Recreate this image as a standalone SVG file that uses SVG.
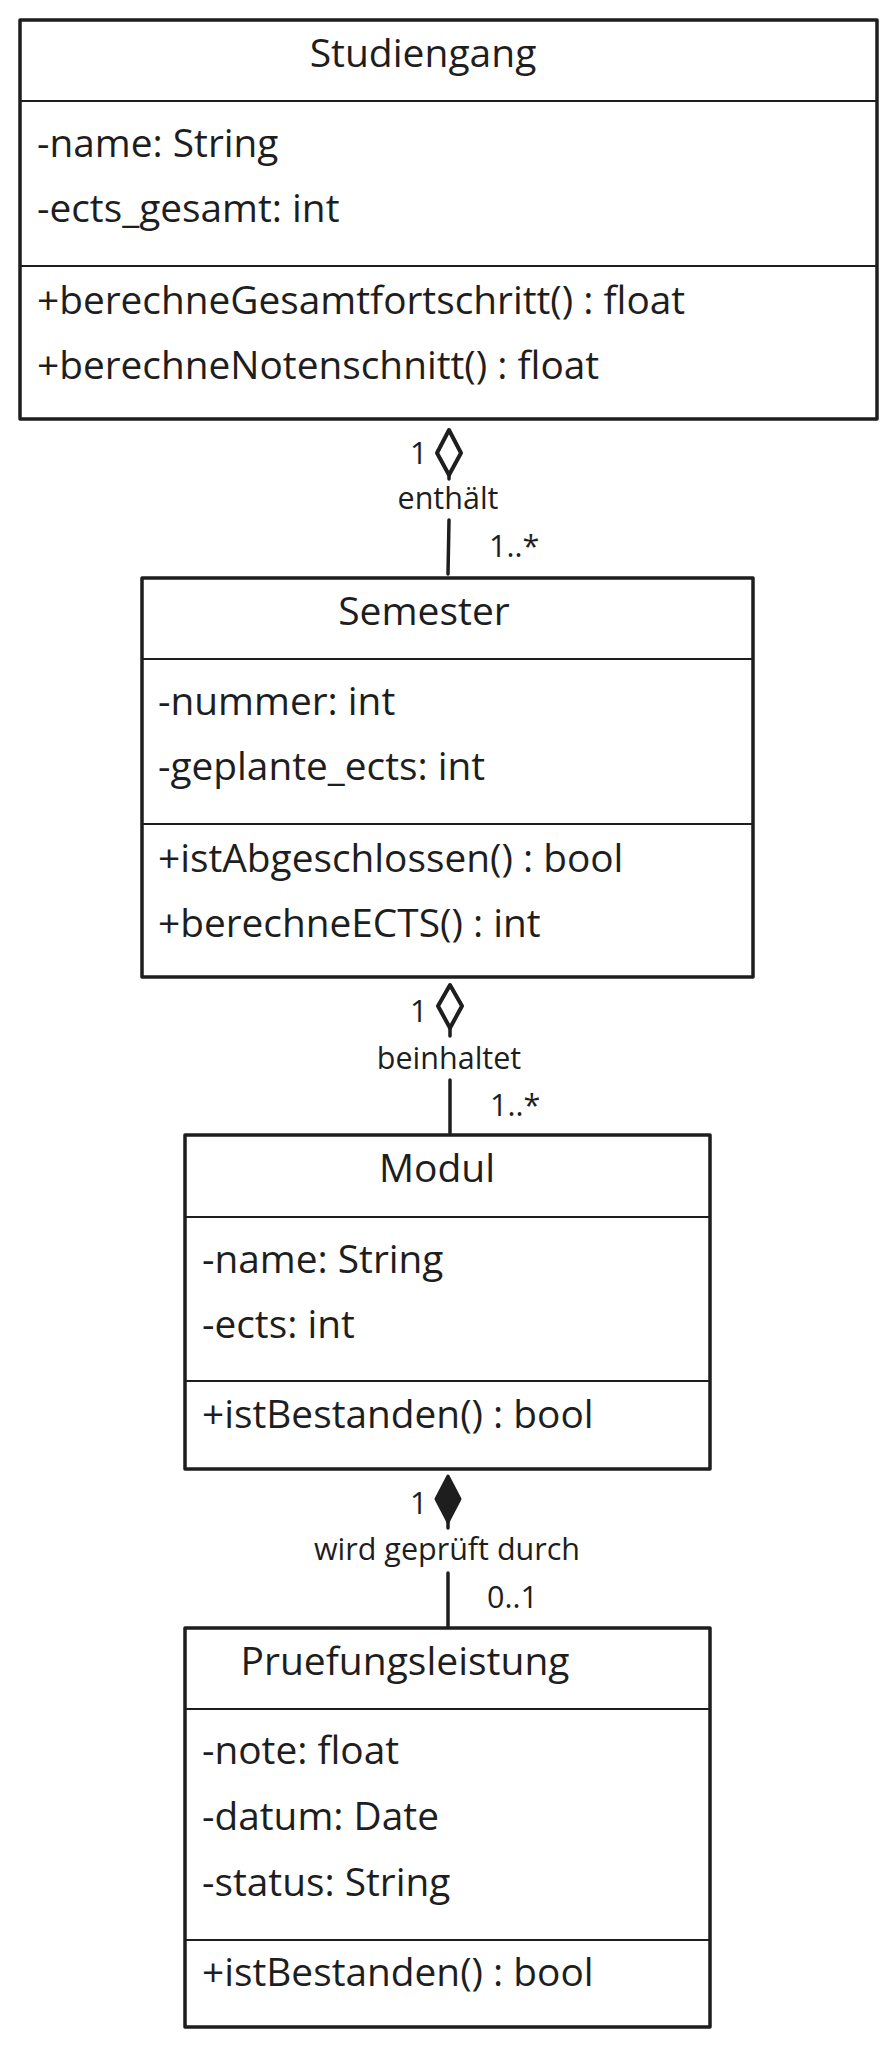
<svg xmlns="http://www.w3.org/2000/svg" width="895" height="2048" viewBox="0 0 895 2048">
<style>
.box{fill:#fff;stroke:#1e1e1e;stroke-width:3.5;stroke-linejoin:round}
.div{stroke:#1e1e1e;stroke-width:2.2}
.t{font-family:"Open Sans","Noto Sans","Liberation Sans",sans-serif;fill:#1e1e1e;font-weight:500}
.title{font-size:39px;text-anchor:middle}
.m{font-size:38.8px}
.lbl{font-size:30.5px}
.mid{text-anchor:middle}
.edge{stroke:#1e1e1e;stroke-width:3.5;stroke-linecap:round;fill:none}
.agg{fill:#fff;stroke:#1e1e1e;stroke-width:4;stroke-linejoin:round}
.comp{fill:#1e1e1e;stroke:#1e1e1e;stroke-width:3;stroke-linejoin:round}
</style>
<rect width="895" height="2048" fill="#fff"/>

<g id="connectors">
  <g id="e1">
    <polygon class="agg" points="449,430 461,453 449,475 437,453"/>
    <line class="edge" x1="449" y1="475" x2="449" y2="479"/>
    <line class="edge" x1="449" y1="520" x2="448" y2="574"/>
    <text class="t lbl" x="410" y="464">1</text>
    <text class="t lbl mid" x="448" y="509">enthält</text>
    <text class="t lbl" x="489" y="557">1..*</text>
  </g>
  <g id="e2">
    <polygon class="agg" points="450,985 462,1006 450,1028 438,1006"/>
    <line class="edge" x1="450" y1="1028" x2="450" y2="1036"/>
    <line class="edge" x1="450" y1="1080" x2="450" y2="1133"/>
    <text class="t lbl" x="410" y="1022">1</text>
    <text class="t lbl mid" x="449" y="1069">beinhaltet</text>
    <text class="t lbl" x="490" y="1116">1..*</text>
  </g>
  <g id="e3">
    <polygon class="comp" points="448,1476 460,1499 448,1522 436,1499"/>
    <line class="edge" x1="448" y1="1522" x2="448" y2="1528"/>
    <line class="edge" x1="448" y1="1573" x2="448" y2="1630"/>
    <text class="t lbl" x="410" y="1514">1</text>
    <text class="t lbl mid" x="447" y="1560">wird geprüft durch</text>
    <text class="t lbl" x="487" y="1608">0..1</text>
  </g>
</g>

<g id="Studiengang">
  <rect class="box" x="20" y="20" width="857" height="399"/>
  <line class="div" x1="20" y1="101" x2="877" y2="101"/>
  <line class="div" x1="20" y1="266" x2="877" y2="266"/>
  <text class="t title" x="423" y="67">Studiengang</text>
  <text class="t m" x="37" y="157">-name: String</text>
  <text class="t m" x="37" y="222">-ects_gesamt: int</text>
  <text class="t m" x="37" y="314">+berechneGesamtfortschritt() : float</text>
  <text class="t m" x="37" y="379">+berechneNotenschnitt() : float</text>
</g>

<g id="Semester">
  <rect class="box" x="142" y="578" width="611" height="399"/>
  <line class="div" x1="142" y1="659" x2="753" y2="659"/>
  <line class="div" x1="142" y1="824" x2="753" y2="824"/>
  <text class="t title" x="424" y="625">Semester</text>
  <text class="t m" x="158" y="715">-nummer: int</text>
  <text class="t m" x="158" y="780">-geplante_ects: int</text>
  <text class="t m" x="158" y="872">+istAbgeschlossen() : bool</text>
  <text class="t m" x="158" y="937">+berechneECTS() : int</text>
</g>

<g id="Modul">
  <rect class="box" x="185" y="1135" width="525" height="334"/>
  <line class="div" x1="185" y1="1217" x2="710" y2="1217"/>
  <line class="div" x1="185" y1="1381" x2="710" y2="1381"/>
  <text class="t title" x="437" y="1182">Modul</text>
  <text class="t m" x="202" y="1273">-name: String</text>
  <text class="t m" x="202" y="1338">-ects: int</text>
  <text class="t m" x="202" y="1428">+istBestanden() : bool</text>
</g>

<g id="Pruefungsleistung">
  <rect class="box" x="185" y="1628" width="525" height="399"/>
  <line class="div" x1="185" y1="1709" x2="710" y2="1709"/>
  <line class="div" x1="185" y1="1940" x2="710" y2="1940"/>
  <text class="t title" x="405" y="1675">Pruefungsleistung</text>
  <text class="t m" x="202" y="1764">-note: float</text>
  <text class="t m" x="202" y="1830">-datum: Date</text>
  <text class="t m" x="202" y="1896">-status: String</text>
  <text class="t m" x="202" y="1986">+istBestanden() : bool</text>
</g>
</svg>
